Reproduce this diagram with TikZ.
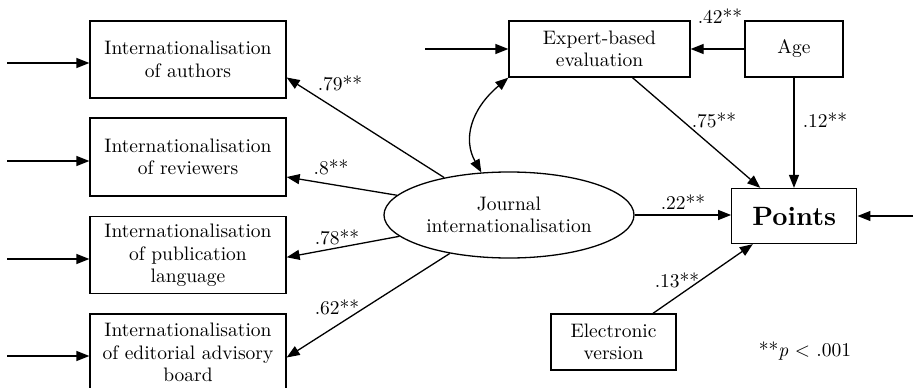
\documentclass[tikz,border=0pt]{standalone}
\usepackage{fontspec}
\setmainfont{lmroman10-regular.otf}[
  BoldFont=lmroman10-bold.otf,
  ItalicFont=lmroman10-italic.otf,
  BoldItalicFont=lmroman10-bolditalic.otf]
\usetikzlibrary{arrows.meta,shapes.geometric}

\tikzset{
  every picture/.style={x=1pt,y=-1pt},
  txt/.style={font=\fontsize{19.5}{22.5}\selectfont},
  box/.style={txt,draw,line width=1.3pt,align=center,inner sep=0pt},
  lbl/.style={txt,inner sep=0pt},
  arr/.style={line width=1.3pt,-{Triangle[length=13pt,width=10pt]}},
  darr/.style={line width=1.3pt,{Triangle[length=13pt,width=10pt]}-{Triangle[length=13pt,width=10pt]}},
}

\begin{document}
\begin{tikzpicture}
\useasboundingbox (0,0) rectangle (914,388);

% indicators of the latent variable
\node[box,minimum width=196pt,minimum height=77pt] (auth) at (188,59.5) {Internationalisation\\of authors};
\node[box,minimum width=196pt,minimum height=78pt] (rev) at (188,157) {Internationalisation\\of reviewers};
\node[box,minimum width=196pt,minimum height=77pt] (lang) at (188,255.3) {Internationalisation\\of publication\\language};
\node[box,minimum width=196pt,minimum height=77pt] (edit) at (188,352.5) {Internationalisation\\of editorial advisory\\board};

% latent variable
\node[txt,draw,ellipse,line width=1.3pt,align=center,inner sep=0pt,
      minimum width=250pt,minimum height=86pt] (jint) at (509,215) {Journal\\internationalisation};

% observed predictors and outcome
\node[box,minimum width=181pt,minimum height=56pt] (expert) at (599.5,49) {Expert-based\\evaluation};
\node[box,minimum width=98pt,minimum height=56pt] (age) at (794,49) {Age};
\node[box,minimum width=125pt,minimum height=55pt,font=\fontsize{26.5}{30}\selectfont\bfseries] (pts) at (794.3,216) {Points};
\node[box,minimum width=125pt,minimum height=56pt] (elec) at (613.5,342) {Electronic\\version};

% error terms
\coordinate (e1) at (7,63);
\coordinate (e2) at (7,161);
\coordinate (e3) at (7,259);
\coordinate (e4) at (7,356);
\coordinate (e5) at (425,49);
\coordinate (e6) at (913,216);
\draw[arr] (e1) -- (e1 -| auth.west);
\draw[arr] (e2) -- (e2 -| rev.west);
\draw[arr] (e3) -- (e3 -| lang.west);
\draw[arr] (e4) -- (e4 -| edit.west);
\draw[arr] (e5) -- (expert.west);
\draw[arr] (e6) -- (pts.east);

% loadings
\draw[arr] (jint.150) -- ([yshift=-18pt]auth.east);
\draw[arr] (jint.170) -- ([yshift=-20pt]rev.east);
\draw[arr] (jint.191) -- ([yshift=-2pt]lang.east);
\draw[arr] (jint.213) -- ([yshift=-5pt]edit.east);

% structural paths
\draw[arr] (age.west) -- (expert.east);
\draw[arr] ([xshift=33pt]expert.south) -- ([xshift=-34pt]pts.north);
\draw[arr] (age.south) -- (pts.north -| age.south);
\draw[arr] (jint.east) -- (jint.east -| pts.west);
\draw[arr] ([xshift=39.5pt]elec.north) -- ([xshift=-41.5pt]pts.south);

% correlation between expert evaluation and the latent variable
\draw[darr] (expert.south west) .. controls (470,110) and (463,140) .. (jint.123);

% coefficients
\node[lbl] at (720,16) {.42**};
\node[lbl] at (340,83) {.79**};
\node[lbl] at (331,167) {.8**};
\node[lbl] at (337,237) {.78**};
\node[lbl] at (337,307) {.62**};
\node[lbl] at (714,120) {.75**};
\node[lbl] at (825,120) {.12**};
\node[lbl] at (683,202) {.22**};
\node[lbl] at (677,280) {.13**};
\node[lbl] at (805,351) {**\textit{p} < .001};
\end{tikzpicture}
\end{document}
